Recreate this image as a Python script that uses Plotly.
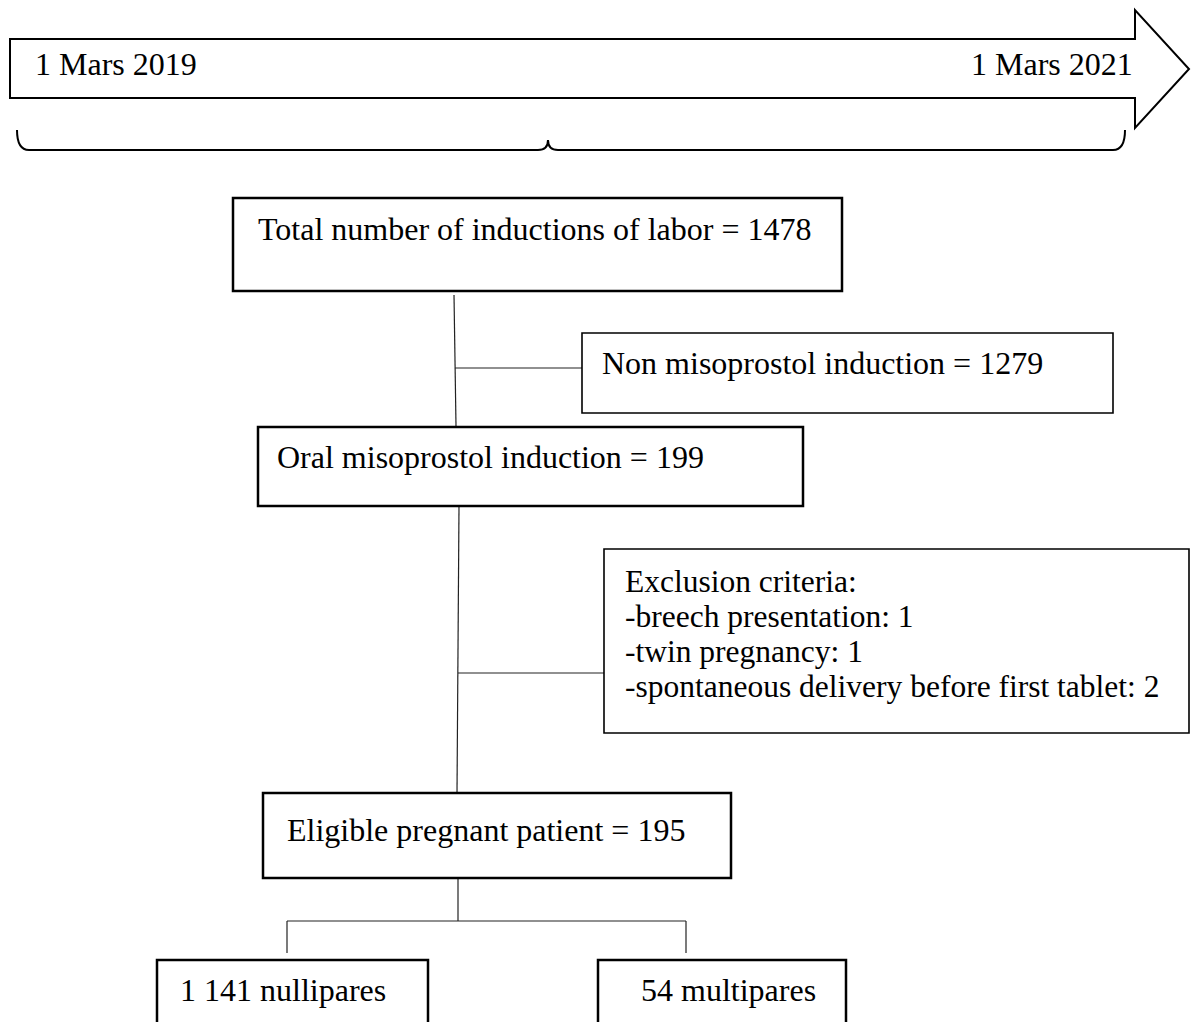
import plotly.graph_objects as go

# ---- data (counts shown in the flowchart) ----
period_start = "1 Mars 2019"
period_end = "1 Mars 2021"
total_inductions = 1478
non_misoprostol = 1279
oral_misoprostol = 199
exclusion_labels = ["breech presentation", "twin pregnancy", "spontaneous delivery before first tablet"]
exclusion_counts = [1, 1, 2]
eligible = 195
nullipares = "1 141"
multipares = 54

W, H = 1192, 1022
FONT = "Liberation Serif, Times New Roman, serif"
FS = 32

shapes = []
annotations = []


def box(x0, y0, x1, y1, w=2.2):
    shapes.append(dict(type="rect", x0=x0, y0=y0, x1=x1, y1=y1,
                       line=dict(color="black", width=w), fillcolor="white", layer="below"))


def line(x0, y0, x1, y1, w=1.2):
    shapes.append(dict(type="line", x0=x0, y0=y0, x1=x1, y1=y1,
                       line=dict(color="#222", width=w), layer="below"))


def text(x, y, s, anchor="left", size=FS):
    annotations.append(dict(x=x, y=y, text=s, showarrow=False, xanchor=anchor, yanchor="middle",
                            font=dict(family=FONT, size=size, color="black"), align="left"))


# timeline arrow
shapes.append(dict(type="path",
                   path="M 10,39 L 1135,39 L 1135,10 L 1189,69 L 1135,128 L 1135,98 L 10,98 Z",
                   line=dict(color="black", width=2), fillcolor="white"))
text(33, 64, period_start)
text(1135, 64, period_end, anchor="right")

# brace
shapes.append(dict(type="path",
                   path="M 17,130 Q 17,150 29,150 L 538,150 Q 548,150 548,140 Q 548,150 558,150 "
                        "L 1113,150 Q 1125,150 1125,130",
                   line=dict(color="black", width=2)))

# connectors
line(454, 295, 456, 426)
line(455, 368, 582, 368)
line(459, 506, 457, 793)
line(458, 673, 604, 673)
line(458, 878, 458, 921)
line(287, 921, 686, 921)
line(287, 921, 287, 953)
line(686, 921, 686, 953)

# boxes
box(233, 198, 842, 291, 2.5)
text(256, 229, f"Total number of inductions of labor = {total_inductions}")

box(582, 333, 1113, 413, 1.6)
text(600, 363, f"Non misoprostol induction = {non_misoprostol}")

box(258, 427, 803, 506, 2.5)
text(275, 457, f"Oral misoprostol induction = {oral_misoprostol}")

box(604, 549, 1189, 733, 1.6)
EX_FS = 31.5
EX_STEP = 35
text(623, 581, "Exclusion criteria:", size=EX_FS)
for i, (lab, c) in enumerate(zip(exclusion_labels, exclusion_counts)):
    text(623, 581 + EX_STEP * (i + 1), f"-{lab}: {c}", size=EX_FS)

box(263, 793, 731, 878, 2.5)
text(285, 830, f"Eligible pregnant patient = {eligible}")

box(157, 960, 428, 1040, 2.5)
text(178, 990, f"{nullipares} nullipares")

box(598, 960, 846, 1040, 2.5)
text(639, 990, f"{multipares} multipares")

fig = go.Figure()
fig.update_layout(
    width=W, height=H, margin=dict(l=0, r=0, t=0, b=0),
    paper_bgcolor="white", plot_bgcolor="white",
    xaxis=dict(range=[0, W], visible=False, fixedrange=True),
    yaxis=dict(range=[H, 0], visible=False, fixedrange=True),
    shapes=shapes, annotations=annotations, showlegend=False,
)
fig.write_html(
    "out.html",
    config={"displayModeBar": False},
    post_script="document.body.style.margin='0';document.body.style.overflow='hidden';",
)
